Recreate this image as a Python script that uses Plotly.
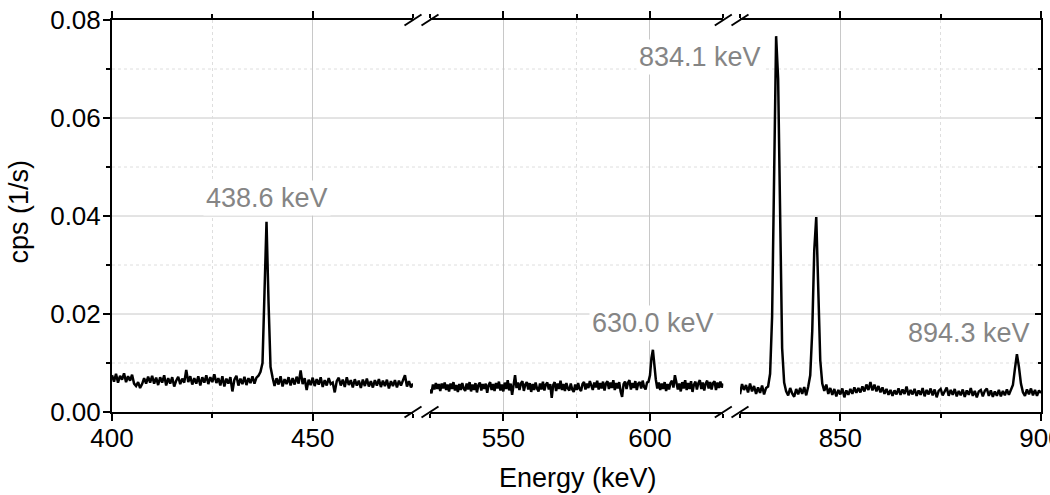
import plotly.graph_objects as go

# ---------------- data (cps, 0.5 keV bins) ----------------
seg1_start = 400.0
cps_seg1 = [
    0.0075, 0.0062, 0.0078, 0.0060, 0.0074, 0.0066, 0.0079, 0.0061, 0.0073, 0.0064,
    0.0076, 0.0058, 0.0053, 0.0061, 0.0049, 0.0057, 0.0069, 0.0058, 0.0072, 0.0060,
    0.0074, 0.0058, 0.0070, 0.0055, 0.0071, 0.0060, 0.0075, 0.0054, 0.0069, 0.0058,
    0.0071, 0.0052, 0.0064, 0.0072, 0.0057, 0.0068, 0.0060, 0.0086, 0.0061, 0.0073,
    0.0056, 0.0069, 0.0058, 0.0073, 0.0054, 0.0071, 0.0060, 0.0075, 0.0057, 0.0071,
    0.0061, 0.0077, 0.0059, 0.0069, 0.0054, 0.0073, 0.0052, 0.0068, 0.0058, 0.0071,
    0.0042, 0.0066, 0.0074, 0.0054, 0.0068, 0.0057, 0.0072, 0.0055, 0.0069, 0.0059,
    0.0073, 0.0058, 0.0070, 0.0074, 0.0082, 0.0100, 0.0245, 0.0388, 0.0225, 0.0092,
    0.0071, 0.0053, 0.0069, 0.0056, 0.0073, 0.0052, 0.0067, 0.0057, 0.0071, 0.0054,
    0.0069, 0.0056, 0.0072, 0.0058, 0.0085, 0.0057, 0.0069, 0.0045, 0.0066, 0.0055,
    0.0070, 0.0053, 0.0067, 0.0056, 0.0071, 0.0051, 0.0065, 0.0054, 0.0069, 0.0057,
    0.0060, 0.0040, 0.0063, 0.0070, 0.0054, 0.0066, 0.0051, 0.0071, 0.0055, 0.0065,
    0.0050, 0.0067, 0.0054, 0.0064, 0.0049, 0.0066, 0.0053, 0.0068, 0.0052, 0.0063,
    0.0050, 0.0065, 0.0054, 0.0067, 0.0051, 0.0064, 0.0053, 0.0066, 0.0048, 0.0063,
    0.0053, 0.0065, 0.0050, 0.0064, 0.0054, 0.0067, 0.0075, 0.0052, 0.0063, 0.0050,
    0.0058,
]

seg2_start = 525.0
cps_seg2 = [
    0.0046, 0.0038, 0.0056, 0.0046, 0.0059, 0.0047, 0.0057, 0.0043, 0.0058, 0.0048,
    0.0060, 0.0045, 0.0056, 0.0042, 0.0058, 0.0047, 0.0061, 0.0044, 0.0055, 0.0041,
    0.0057, 0.0045, 0.0059, 0.0048, 0.0043, 0.0058, 0.0046, 0.0061, 0.0042, 0.0056,
    0.0045, 0.0059, 0.0040, 0.0055, 0.0060, 0.0044, 0.0057, 0.0047, 0.0058, 0.0039,
    0.0055, 0.0061, 0.0045, 0.0057, 0.0043, 0.0059, 0.0048, 0.0062, 0.0044, 0.0056,
    0.0042, 0.0060, 0.0047, 0.0065, 0.0044, 0.0058, 0.0035, 0.0060, 0.0075, 0.0049,
    0.0060, 0.0045, 0.0058, 0.0063, 0.0043, 0.0056, 0.0061, 0.0046, 0.0059, 0.0041,
    0.0057, 0.0045, 0.0060, 0.0048, 0.0042, 0.0058, 0.0046, 0.0062, 0.0044, 0.0056,
    0.0060, 0.0046, 0.0057, 0.0029, 0.0055, 0.0061, 0.0043, 0.0058, 0.0047, 0.0064,
    0.0045, 0.0057, 0.0043, 0.0059, 0.0048, 0.0044, 0.0058, 0.0046, 0.0041, 0.0056,
    0.0045, 0.0059, 0.0047, 0.0043, 0.0057, 0.0061, 0.0046, 0.0058, 0.0049, 0.0063,
    0.0051, 0.0045, 0.0060, 0.0050, 0.0064, 0.0046, 0.0059, 0.0048, 0.0062, 0.0044,
    0.0058, 0.0063, 0.0047, 0.0060, 0.0049, 0.0065, 0.0045, 0.0059, 0.0048, 0.0061,
    0.0042, 0.0031, 0.0057, 0.0062, 0.0047, 0.0060, 0.0065, 0.0046, 0.0059, 0.0049,
    0.0063, 0.0045, 0.0058, 0.0061, 0.0048, 0.0064, 0.0051, 0.0046, 0.0060, 0.0062,
    0.0075, 0.0110, 0.0127, 0.0093, 0.0066, 0.0048, 0.0060, 0.0045, 0.0058, 0.0047,
    0.0061, 0.0043, 0.0057, 0.0046, 0.0059, 0.0064, 0.0050, 0.0075, 0.0060, 0.0046,
    0.0058, 0.0042, 0.0061, 0.0048, 0.0065, 0.0045, 0.0059, 0.0047, 0.0063, 0.0041,
    0.0056, 0.0062, 0.0046, 0.0059, 0.0065, 0.0047, 0.0060, 0.0044, 0.0058, 0.0064,
    0.0048, 0.0061, 0.0046, 0.0059, 0.0063, 0.0045, 0.0060, 0.0049, 0.0062, 0.0050,
    0.0058,
]

seg3_start = 825.0
cps_seg3 = [
    0.0036, 0.0057, 0.0045, 0.0055, 0.0040, 0.0058, 0.0042, 0.0053, 0.0037, 0.0050,
    0.0039, 0.0054, 0.0036, 0.0049, 0.0052, 0.0078, 0.0195, 0.0450, 0.0767, 0.0680,
    0.0360, 0.0130, 0.0060, 0.0042, 0.0034, 0.0049, 0.0038, 0.0031, 0.0047, 0.0036,
    0.0049, 0.0037, 0.0051, 0.0034, 0.0052, 0.0075, 0.0165, 0.0330, 0.0398, 0.0250,
    0.0105, 0.0058, 0.0043, 0.0056, 0.0037, 0.0049, 0.0035, 0.0047, 0.0032, 0.0045,
    0.0036, 0.0048, 0.0030, 0.0044, 0.0035, 0.0047, 0.0037, 0.0050, 0.0039, 0.0049,
    0.0040, 0.0052, 0.0042, 0.0056, 0.0045, 0.0061, 0.0044, 0.0056, 0.0042, 0.0053,
    0.0040, 0.0050, 0.0037, 0.0047, 0.0035, 0.0045, 0.0033, 0.0044, 0.0036, 0.0048,
    0.0035, 0.0046, 0.0037, 0.0052, 0.0034, 0.0045, 0.0036, 0.0047, 0.0033, 0.0044,
    0.0035, 0.0049, 0.0032, 0.0045, 0.0036, 0.0048, 0.0034, 0.0046, 0.0030, 0.0043,
    0.0047, 0.0034, 0.0044, 0.0050, 0.0033, 0.0045, 0.0035, 0.0047, 0.0032, 0.0043,
    0.0034, 0.0046, 0.0031, 0.0044, 0.0035, 0.0049, 0.0033, 0.0043, 0.0030, 0.0042,
    0.0045, 0.0032, 0.0043, 0.0048, 0.0033, 0.0044, 0.0031, 0.0042, 0.0033, 0.0045,
    0.0032, 0.0043, 0.0034, 0.0046, 0.0035, 0.0047, 0.0055, 0.0088, 0.0118, 0.0092,
    0.0058, 0.0040, 0.0033, 0.0046, 0.0036, 0.0048, 0.0034, 0.0045, 0.0033, 0.0044,
    0.0039,
]
bin_width = 0.5

seg_ranges = [[400, 475], [525, 625], [825, 900]]
y_range = [0, 0.08]
y_major = [0.02, 0.04, 0.06]
y_minor = [0.01, 0.03, 0.05, 0.07]

x_title = "Energy (keV)"
y_title = "cps (1/s)"
peak_labels = ["438.6 keV", "834.1 keV", "630.0 keV", "894.3 keV"]
label_y = [0.0437, 0.0724, 0.0182, 0.0161]

# ---------------- layout geometry ----------------
W, H = 1050, 495
L, R, T, B = 112, 9, 20, 83
PW, PH = W - L - R, H - T - B


def px(xp):
    return (xp - L) / PW


def py(yp):
    return (L * 0 + (H - B) - yp) / PH


domains = [[px(112), px(413)], [px(430), px(723.3)], [px(740), px(1041)]]
label_x_px = [266.7, 699.5, 653, 969]

FONT = "Liberation Sans, Arial, sans-serif"


def energies(start, values):
    return [start + bin_width * i for i in range(len(values))]


fig = go.Figure()
for k, (start, vals) in enumerate([(seg1_start, cps_seg1), (seg2_start, cps_seg2), (seg3_start, cps_seg3)]):
    xa = "x" if k == 0 else f"x{k+1}"
    fig.add_trace(go.Scatter(x=energies(start, vals), y=vals, xaxis=xa, yaxis="y",
                             mode="lines", line=dict(color="black", width=2.5),
                             showlegend=False, hoverinfo="skip"))
# right-hand frame axis (inward ticks)
fig.add_trace(go.Scatter(x=[], y=[], xaxis="x3", yaxis="y2", showlegend=False))

xcommon = dict(showline=True, linecolor="black", linewidth=2, mirror="ticks",
               ticks="outside", ticklen=7, tickwidth=2, tickcolor="black",
               showgrid=True, gridcolor="#c8c8c8", gridwidth=1, zeroline=False,
               dtick=50, tick0=0, automargin=False, ticklabeloverflow="allow",
               ticklabelstandoff=-5,
               tickfont=dict(family=FONT, size=26, color="black"),
               minor=dict(ticks="outside", ticklen=4, tickwidth=2, tickcolor="black",
                          dtick=25, tick0=0, showgrid=True, gridcolor="#dedede",
                          griddash="dot", gridwidth=1),
               anchor="y")

fig.update_layout(
    width=W, height=H,
    margin=dict(l=L, r=R, t=T, b=B, autoexpand=False),
    paper_bgcolor="white", plot_bgcolor="rgba(0,0,0,0)",
    xaxis=dict(xcommon, domain=domains[0], range=seg_ranges[0]),
    xaxis2=dict(xcommon, domain=domains[1], range=seg_ranges[1]),
    xaxis3=dict(xcommon, domain=domains[2], range=seg_ranges[2]),
    yaxis=dict(range=y_range, dtick=0.02, tickformat=".2f", anchor="x", side="left",
               showline=True, linecolor="black", linewidth=2, automargin=False,
               ticks="outside", ticklen=7, tickwidth=2, tickcolor="black",
               ticklabelstandoff=-3,
               tickfont=dict(family=FONT, size=26, color="black"),
               minor=dict(ticks="outside", ticklen=4, tickwidth=2, tickcolor="black", dtick=0.01),
               showgrid=False, zeroline=False),
    yaxis2=dict(range=y_range, dtick=0.02, overlaying="y", side="right", anchor="x3",
                showline=True, linecolor="black", linewidth=2, automargin=False,
                ticks="inside", ticklen=6, tickwidth=2, tickcolor="black",
                minor=dict(ticks="inside", ticklen=3, tickwidth=2, tickcolor="black", dtick=0.01),
                showticklabels=False, showgrid=False, zeroline=False),
)

shapes = []
for v in y_major:
    shapes.append(dict(type="line", xref="paper", yref="y", x0=0, x1=1, y0=v, y1=v,
                       line=dict(color="#c8c8c8", width=1), layer="below"))
for v in y_minor:
    shapes.append(dict(type="line", xref="paper", yref="y", x0=0, x1=1, y0=v, y1=v,
                       line=dict(color="#dedede", width=1, dash="dot"), layer="below"))

# axis-break slashes
dx, dy = 8.5 / PW, 5.5 / PH
for xb in [domains[0][1], domains[1][0], domains[1][1], domains[2][0]]:
    for yb in [0, 1]:
        shapes.append(dict(type="line", xref="paper", yref="paper",
                           x0=xb - dx, x1=xb + dx, y0=yb - dy, y1=yb + dy,
                           line=dict(color="black", width=2), layer="above"))
fig.update_layout(shapes=shapes)

# axis titles
fig.add_annotation(text=x_title, xref="paper", yref="paper", x=px(577.5), y=py(477.5),
                   xanchor="center", yanchor="middle", showarrow=False,
                   font=dict(family=FONT, size=27, color="black"))
fig.add_annotation(text=y_title, xref="paper", yref="paper", x=px(19), y=py(211.5),
                   xanchor="center", yanchor="middle", showarrow=False, textangle=-90,
                   font=dict(family=FONT, size=27, color="black"))

for txt, xp, yv in zip(peak_labels, label_x_px, label_y):
    fig.add_annotation(text=txt, xref="paper", yref="y", x=px(xp), y=yv,
                       xanchor="center", yanchor="middle", showarrow=False,
                       bgcolor="white", borderpad=2,
                       font=dict(family=FONT, size=27, color="#858585"))

fig.write_html("out.html")
